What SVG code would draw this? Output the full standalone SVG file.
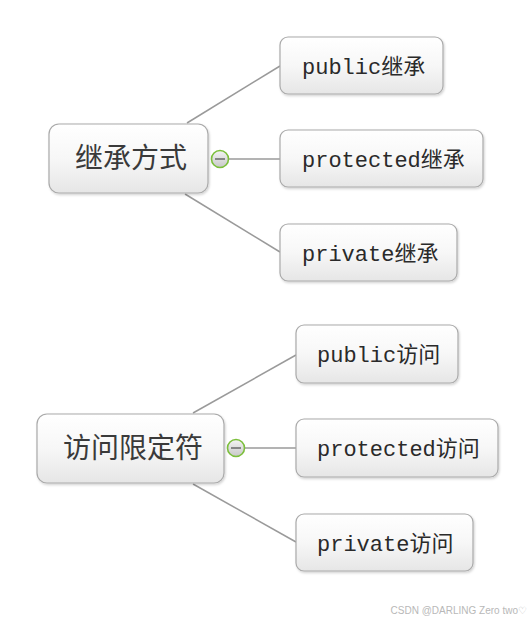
<svg xmlns="http://www.w3.org/2000/svg" width="531" height="624" viewBox="0 0 531 624">
<defs>
<linearGradient id="g" x1="0" y1="0" x2="0" y2="1">
<stop offset="0" stop-color="#ffffff"/>
<stop offset="0.5" stop-color="#f7f7f7"/>
<stop offset="1" stop-color="#e6e6e6"/>
</linearGradient>
<linearGradient id="cg" x1="0" y1="0" x2="0" y2="1">
<stop offset="0" stop-color="#f4f4f4"/>
<stop offset="1" stop-color="#c8c8c8"/>
</linearGradient>
<filter id="sh" x="-10%" y="-10%" width="130%" height="140%">
<feDropShadow dx="1" dy="1.5" stdDeviation="1.2" flood-color="#000" flood-opacity="0.18"/>
</filter>
</defs>
<style>
.box{fill:url(#g);stroke:#aaaaaa;stroke-width:1.2;filter:url(#sh)}
.root{font-family:"Noto Sans CJK SC",sans-serif;font-size:28px;fill:#3a3a3a}
.lbl{font-family:"Liberation Mono","Noto Sans CJK SC",monospace;font-size:22px;fill:#2a2a2a}
.ln{stroke:#9a9a9a;stroke-width:1.5;fill:none}
.cc{fill:url(#cg);stroke:#7cbf3c;stroke-width:1.6}
.cm{stroke:#555;stroke-width:1.3}
.wm{font-family:"Liberation Sans",Arial,sans-serif;font-size:10px;fill:#b8b8b8}
</style>
<g id="connectors">
<line class="ln" x1="187" y1="123" x2="280" y2="66"/>
<line class="ln" x1="229" y1="159" x2="280" y2="159"/>
<line class="ln" x1="185" y1="194" x2="280" y2="252"/>
<line class="ln" x1="193" y1="413" x2="296" y2="355"/>
<line class="ln" x1="245" y1="448" x2="296" y2="448"/>
<line class="ln" x1="193" y1="484" x2="296" y2="542"/>
</g>
<g id="root1">
<rect class="box" x="49" y="124" width="159" height="69" rx="10"/>
<text class="root" x="131" y="168" text-anchor="middle">继承方式</text>
</g>
<g id="toggle1">
<circle class="cc" cx="220" cy="159" r="8.5"/>
<line class="cm" x1="215" y1="159" x2="225" y2="159"/>
</g>
<g id="n-public1">
<rect class="box" x="280" y="37" width="163" height="57" rx="8"/>
<text class="lbl" x="302" y="74">public继承</text>
</g>
<g id="n-protected1">
<rect class="box" x="280" y="130" width="203" height="57" rx="8"/>
<text class="lbl" x="302" y="167">protected继承</text>
</g>
<g id="n-private1">
<rect class="box" x="280" y="224" width="177" height="57" rx="8"/>
<text class="lbl" x="302" y="261">private继承</text>
</g>
<g id="root2">
<rect class="box" x="37" y="414" width="187" height="69" rx="10"/>
<text class="root" x="133" y="458" text-anchor="middle">访问限定符</text>
</g>
<g id="toggle2">
<circle class="cc" cx="236" cy="448" r="8.5"/>
<line class="cm" x1="231" y1="448" x2="241" y2="448"/>
</g>
<g id="n-public2">
<rect class="box" x="296" y="325" width="162" height="58" rx="8"/>
<text class="lbl" x="317" y="362">public访问</text>
</g>
<g id="n-protected2">
<rect class="box" x="296" y="419" width="202" height="58" rx="8"/>
<text class="lbl" x="317" y="456">protected访问</text>
</g>
<g id="n-private2">
<rect class="box" x="296" y="514" width="177" height="57" rx="8"/>
<text class="lbl" x="317" y="551">private访问</text>
</g>
<text class="wm" x="527" y="614" text-anchor="end">CSDN @DARLING Zero two♡</text>
</svg>
